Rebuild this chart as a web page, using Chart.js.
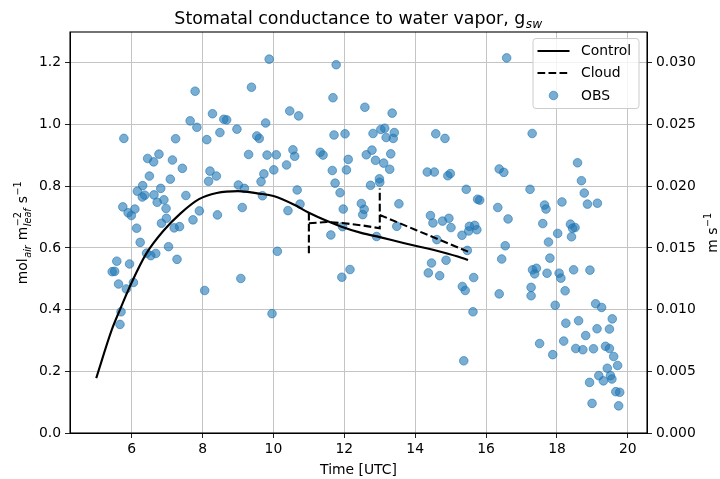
<!DOCTYPE html>
<html><head><meta charset="utf-8">
<script src="https://cdn.jsdelivr.net/npm/chart.js@4.4.1/dist/chart.umd.min.js"></script>
<style>html,body{margin:0;padding:0;background:#fff}#wrap{width:720px;height:479px;position:relative}</style>
</head><body><div id="wrap"><canvas id="c" width="720" height="479"></canvas></div>
<script>
// ---- data ----
const controlTime = [5.0,5.44,5.67,6.0,6.42,6.89,7.38,7.9,8.4,9.0,9.6,10.0,10.6,11.0,11.5,11.92,12.5,13.0,13.5,14.0,14.5,14.9,15.2,15.49];
const controlG    = [0.178,0.335,0.40,0.488,0.583,0.655,0.712,0.758,0.778,0.784,0.776,0.768,0.739,0.714,0.688,0.669,0.648,0.635,0.621,0.607,0.594,0.582,0.572,0.561];
// null marks a break in the dashed path (the vertical jumps are drawn once)
const cloudTime = [11.0,11.0,11.0,11.0,11.5,12.0,12.5,13.0,13.0,13.0,13.0,14.0,15.49];
const cloudG    = [0.714,0.583,null,0.680,0.684,0.680,0.673,0.664,0.793,null,0.707,0.659,0.588];
const obsTime = [
5.78,7.79,9.38,8.28,7.65,7.84,8.60,8.68,8.49,8.97,
8.12,7.24,9.53,9.60,9.30,6.77,6.45,6.62,7.15,7.43,
6.50,7.09,8.21,8.39,8.17,6.31,6.16,6.30,6.37,6.63,
6.82,6.72,6.91,7.53,9.01,9.18,5.75,6.09,5.90,5.99,
6.97,7.91,9.12,8.42,6.98,6.84,7.73,6.14,7.20,7.35,
6.24,7.04,6.42,6.54,6.68,7.28,5.58,5.45,5.52,5.94,
5.63,6.05,5.85,9.08,8.06,5.70,5.67,
9.88,11.77,11.68,12.58,10.46,10.71,13.35,9.78,11.71,12.02,
12.81,13.03,13.14,13.41,13.18,13.38,14.58,14.84,9.82,10.08,
10.55,10.60,10.37,9.73,9.65,10.01,9.69,10.67,10.75,10.41,
11.32,11.40,12.11,12.06,11.66,11.74,11.88,12.62,12.78,12.88,
13.11,13.28,13.31,12.99,13.00,12.74,11.97,12.48,12.56,12.52,
13.54,13.48,14.34,14.54,14.43,14.50,11.62,11.95,12.91,10.11,
9.96,11.93,12.16,14.46,14.37,14.69,14.61,14.77,14.95,15.01,
15.32,15.53,15.68,15.51,15.74,15.47,14.87,15.44,15.76,15.82,
14.92,14.99,16.37,16.50,16.33,15.65,15.33,15.41,16.37,15.63,
16.58,17.30,18.58,18.69,18.77,18.86,19.14,18.14,17.65,17.69,
17.60,18.02,18.38,18.44,18.51,18.41,17.24,16.62,16.54,16.44,
17.76,17.80,17.42,17.31,17.37,17.72,18.06,18.11,18.47,18.93,
18.23,17.27,17.27,15.37,17.95,18.25,18.61,19.09,19.26,19.56,
19.13,19.48,18.81,17.51,18.19,18.53,18.73,19.03,19.37,19.48,
19.60,17.88,19.42,19.71,19.18,19.31,19.51,19.55,18.92,19.66,
19.77,18.99,19.74];
const obsG = [
0.955,1.108,1.121,1.035,1.012,0.991,1.017,1.015,0.974,0.985,
0.951,0.954,0.963,0.955,0.903,0.904,0.890,0.879,0.885,0.858,
0.833,0.823,0.849,0.833,0.816,0.802,0.784,0.765,0.771,0.772,
0.793,0.748,0.756,0.770,0.804,0.793,0.733,0.726,0.714,0.705,
0.728,0.720,0.731,0.707,0.696,0.680,0.691,0.664,0.665,0.669,
0.618,0.604,0.583,0.575,0.582,0.563,0.557,0.523,0.524,0.548,
0.483,0.488,0.467,0.501,0.462,0.393,0.352,
1.212,1.194,1.087,1.056,1.044,1.028,1.037,1.005,0.966,0.970,
0.971,0.984,0.988,0.974,0.958,0.955,0.970,0.955,0.901,0.902,
0.918,0.897,0.869,0.840,0.815,0.853,0.769,0.788,0.742,0.721,
0.910,0.901,0.887,0.853,0.851,0.810,0.779,0.902,0.917,0.884,
0.875,0.855,0.905,0.824,0.813,0.803,0.726,0.744,0.725,0.708,
0.743,0.670,0.846,0.846,0.705,0.681,0.642,0.669,0.637,0.589,
0.387,0.505,0.530,0.551,0.519,0.510,0.627,0.687,0.696,0.666,
0.641,0.670,0.673,0.655,0.659,0.592,0.560,0.790,0.758,0.755,
0.834,0.841,0.856,0.845,0.731,0.504,0.475,0.462,0.451,0.393,
1.216,0.971,0.876,0.818,0.778,0.742,0.745,0.749,0.739,0.726,
0.679,0.647,0.677,0.664,0.666,0.636,0.790,0.694,0.607,0.564,
0.619,0.567,0.534,0.529,0.516,0.518,0.518,0.502,0.529,0.528,
0.461,0.472,0.445,0.234,0.414,0.356,0.364,0.419,0.407,0.370,
0.338,0.337,0.316,0.290,0.298,0.274,0.270,0.273,0.281,0.274,
0.248,0.254,0.210,0.219,0.186,0.169,0.186,0.175,0.164,0.134,
0.132,0.096,0.088];
const xTicks  = [6,8,10,12,14,16,18,20];
const yTicks  = [0.0,0.2,0.4,0.6,0.8,1.0,1.2];
const y2Ticks = [0.000,0.005,0.010,0.015,0.020,0.025,0.030];
const seriesNames = ['Control','Cloud','OBS'];
const titleMain = 'Stomatal conductance to water vapor, g';
const titleSub = 'sw';
const xLabel = 'Time [UTC]';

// ---- helpers ----
const FONT = '"DejaVu Sans", "Liberation Sans", sans-serif';
const toXY = (xs, ys) => xs.map((x, i) => ({x: x, y: ys[i]}));
const OBS_COLOR = 'rgba(31,119,180,0.6)';

function richMeasure(ctx, parts, base, small) {
  let w = 0;
  for (const p of parts) {
    if (p.t !== undefined) { ctx.font = `${base}px ${FONT}`; w += ctx.measureText(p.t).width; }
    else {
      let ws = 0, wp = 0;
      if (p.sub) { ctx.font = `italic ${small}px ${FONT}`; ws = ctx.measureText(p.sub).width; }
      if (p.sup) { ctx.font = `${small}px ${FONT}`; wp = ctx.measureText(p.sup).width; }
      w += Math.max(ws, wp) + 1;
    }
  }
  return w;
}
function richDraw(ctx, parts, x, y, base, small, subDy, supDy) {
  let cx = x;
  ctx.textAlign = 'left'; ctx.textBaseline = 'alphabetic';
  for (const p of parts) {
    if (p.t !== undefined) {
      ctx.font = `${base}px ${FONT}`; ctx.fillText(p.t, cx, y); cx += ctx.measureText(p.t).width;
    } else {
      let ws = 0, wp = 0;
      if (p.sub) { ctx.font = `italic ${small}px ${FONT}`; ctx.fillText(p.sub, cx + 0.5, y + subDy); ws = ctx.measureText(p.sub).width; }
      if (p.sup) { ctx.font = `${small}px ${FONT}`; ctx.fillText(p.sup, cx + 0.5, y + supDy); wp = ctx.measureText(p.sup).width; }
      cx += Math.max(ws, wp) + 1;
    }
  }
}

const decor = {
  id: 'decor',
  afterDatasetsDraw(chart) {
    const ctx = chart.ctx, a = chart.chartArea;
    ctx.save();
    // frame (spines)
    ctx.strokeStyle = '#000'; ctx.lineWidth = 1.1;
    ctx.strokeRect(a.left, a.top, a.right - a.left, a.bottom - a.top);
    // title
    ctx.fillStyle = '#000';
    const tParts = [{t: titleMain}, {sub: titleSub}];
    const tw = richMeasure(ctx, tParts, 17.4, 12.2);
    richDraw(ctx, tParts, (a.left + a.right) / 2 - tw / 2, 23.5, 17.4, 12.2, 4, -6);
    // x label
    ctx.font = `13.9px ${FONT}`; ctx.textAlign = 'center'; ctx.textBaseline = 'alphabetic';
    ctx.fillText(xLabel, (a.left + a.right) / 2, 474);
    // left y label
    const lParts = [{t: 'mol'}, {sub: 'air'}, {t: ' m'}, {sub: 'leaf', sup: '\u22122'}, {t: ' s'}, {sup: '\u22121'}];
    const lw = richMeasure(ctx, lParts, 13.9, 9.7);
    ctx.save();
    ctx.translate(27, (a.top + a.bottom) / 2);
    ctx.rotate(-Math.PI / 2);
    richDraw(ctx, lParts, -lw / 2, 0, 13.9, 9.7, 3.5, -6);
    ctx.restore();
    // right y label
    const rParts = [{t: 'm s'}, {sup: '\u22121'}];
    const rw = richMeasure(ctx, rParts, 13.9, 9.7);
    ctx.save();
    ctx.translate(717, (a.top + a.bottom) / 2);
    ctx.rotate(-Math.PI / 2);
    richDraw(ctx, rParts, -rw / 2, 0, 13.9, 9.7, 3.5, -6);
    ctx.restore();
    // legend
    const bx = 533, by = 38.5, bw = 106, bh = 70, r = 3;
    ctx.beginPath();
    ctx.moveTo(bx + r, by); ctx.lineTo(bx + bw - r, by); ctx.quadraticCurveTo(bx + bw, by, bx + bw, by + r);
    ctx.lineTo(bx + bw, by + bh - r); ctx.quadraticCurveTo(bx + bw, by + bh, bx + bw - r, by + bh);
    ctx.lineTo(bx + r, by + bh); ctx.quadraticCurveTo(bx, by + bh, bx, by + bh - r);
    ctx.lineTo(bx, by + r); ctx.quadraticCurveTo(bx, by, bx + r, by); ctx.closePath();
    ctx.fillStyle = 'rgba(255,255,255,0.8)'; ctx.fill();
    ctx.strokeStyle = '#cccccc'; ctx.lineWidth = 1; ctx.stroke();
    const rows = [51, 73, 95.5];
    ctx.strokeStyle = '#000'; ctx.lineWidth = 2.1;
    ctx.beginPath(); ctx.moveTo(537.5, rows[0]); ctx.lineTo(569.5, rows[0]); ctx.stroke();
    ctx.setLineDash([7.7, 3.3]);
    ctx.beginPath(); ctx.moveTo(537.5, rows[1]); ctx.lineTo(569.5, rows[1]); ctx.stroke();
    ctx.setLineDash([]);
    ctx.beginPath(); ctx.arc(553.5, rows[2], 4.3, 0, Math.PI * 2);
    ctx.fillStyle = OBS_COLOR; ctx.fill(); ctx.strokeStyle = OBS_COLOR; ctx.lineWidth = 1; ctx.stroke();
    ctx.fillStyle = '#000'; ctx.font = `13.9px ${FONT}`; ctx.textAlign = 'left'; ctx.textBaseline = 'middle';
    seriesNames.forEach((n, i) => ctx.fillText(n, 581, rows[i] + 0.5));
    ctx.restore();
  }
};

const tickFont = {family: FONT, size: 13.9};
new Chart(document.getElementById('c'), {
  type: 'scatter',
  data: {
    datasets: [
      {label: seriesNames[1], data: toXY(cloudTime, cloudG), showLine: true, spanGaps: false, borderColor: '#000', borderWidth: 2.1,
       borderDash: [7.7, 3.3], pointRadius: 0, tension: 0, fill: false, yAxisID: 'y', order: 0},
      {label: seriesNames[0], data: toXY(controlTime, controlG), showLine: true, borderColor: '#000', borderWidth: 2.1,
       pointRadius: 0, cubicInterpolationMode: 'monotone', fill: false, yAxisID: 'y', order: 1},
      {label: seriesNames[2], data: toXY(obsTime, obsG), showLine: false, backgroundColor: OBS_COLOR,
       borderColor: OBS_COLOR, borderWidth: 1, pointRadius: 4.3, pointHoverRadius: 4.3, yAxisID: 'y', order: 2}
    ]
  },
  options: {
    responsive: false, animation: false, devicePixelRatio: 1,
    layout: {padding: {top: 32, left: 0, right: 0, bottom: 0}},
    plugins: {legend: {display: false}, title: {display: false}, tooltip: {enabled: false}},
    events: [],
    scales: {
      x: {type: 'linear', position: 'bottom', min: 4.26, max: 20.54,
          afterBuildTicks: s => { s.ticks = xTicks.map(v => ({value: v})); },
          afterFit: s => { s.height = 46; },
          ticks: {font: tickFont, color: '#000', padding: 3, maxRotation: 0, callback: v => String(v)},
          grid: {color: '#c4c4c4', lineWidth: 1, tickLength: 5, tickColor: '#222', drawTicks: true},
          border: {display: true, color: '#000', width: 1}},
      y: {type: 'linear', position: 'left', min: 0, max: 1.3,
          afterBuildTicks: s => { s.ticks = yTicks.map(v => ({value: v})); },
          afterFit: s => { s.width = 70; },
          ticks: {font: tickFont, color: '#000', padding: 4, callback: v => v.toFixed(1)},
          grid: {color: '#c4c4c4', lineWidth: 1, tickLength: 5, tickColor: '#222', drawTicks: true},
          border: {display: true, color: '#000', width: 1}},
      y2: {type: 'linear', position: 'right', min: 0, max: 0.0325, display: true,
          afterBuildTicks: s => { s.ticks = y2Ticks.map(v => ({value: v})); },
          afterFit: s => { s.width = 73; },
          ticks: {font: tickFont, color: '#000', padding: 4, callback: v => v.toFixed(3)},
          grid: {drawOnChartArea: false, tickLength: 5, tickColor: '#222', drawTicks: true},
          border: {display: true, color: '#000', width: 1}}
    }
  },
  plugins: [decor]
});
</script>
</body></html>
